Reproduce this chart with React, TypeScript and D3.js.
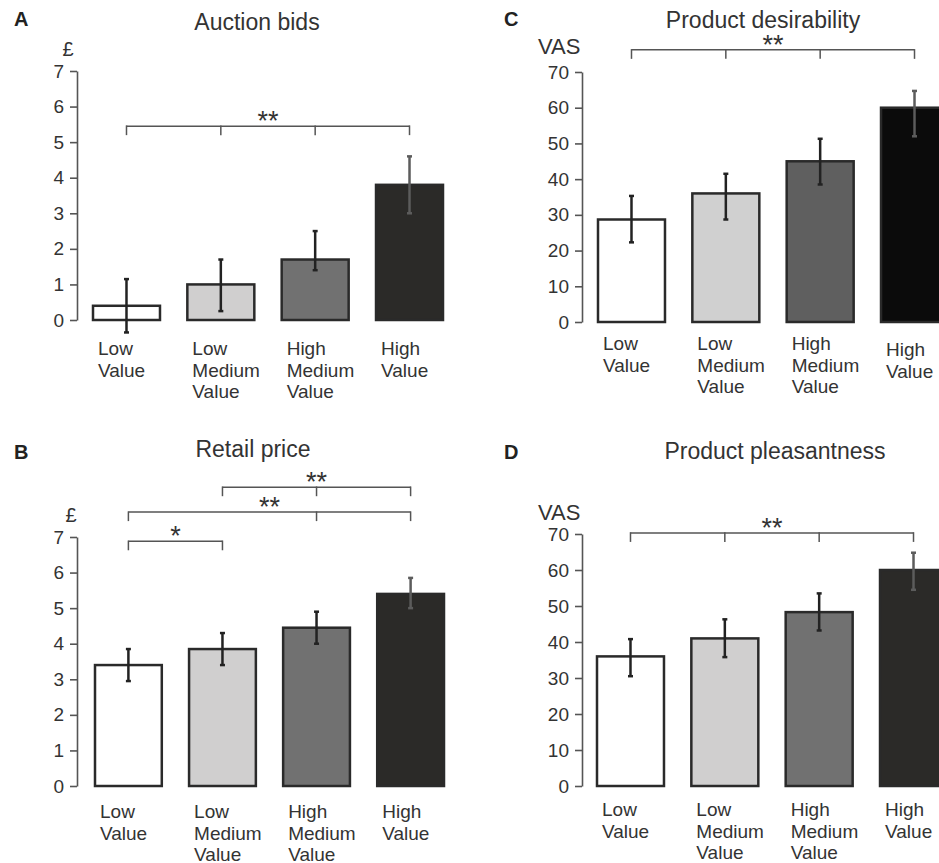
import { useEffect, useRef } from "react";
import * as d3 from "d3";

// categories shared by every panel
const categories = ["Low Value", "Low Medium Value", "High Medium Value", "High Value"];

// A: auction bids (£)
const auctionBids = [0.4, 1.0, 1.7, 3.8];
const auctionBidsLow = [-0.35, 0.25, 1.4, 3.0];
const auctionBidsHigh = [1.15, 1.7, 2.5, 4.6];

// B: retail price (£)
const retailPrice = [3.4, 3.85, 4.45, 5.4];
const retailPriceLow = [2.95, 3.4, 4.0, 5.0];
const retailPriceHigh = [3.85, 4.3, 4.9, 5.85];

// C: product desirability (VAS)
const desirability = [28.7, 36, 45, 60];
const desirabilityLow = [22.3, 28.7, 38.5, 52];
const desirabilityHigh = [35.3, 41.5, 51.3, 64.7];

// D: product pleasantness (VAS)
const pleasantness = [36, 41, 48.3, 60];
const pleasantnessLow = [30.5, 35.8, 43.2, 54.5];
const pleasantnessHigh = [40.8, 46.3, 53.5, 64.8];

const poundTicks = [0, 1, 2, 3, 4, 5, 6, 7];
const vasTicks = [0, 10, 20, 30, 40, 50, 60, 70];

// significance brackets: indices of bars, level in data units
const auctionSig = [{ from: 0, to: 3, drops: [0, 1, 2, 3], at: 5.45, label: "**" }];
const retailSig = [
  { from: 0, to: 1, drops: [0, 1], at: 6.88, label: "*" },
  { from: 0, to: 3, drops: [0, 2, 3], at: 7.7, label: "**" },
  { from: 1, to: 3, drops: [1, 2, 3], at: 8.4, label: "**" },
];
const desirabilitySig = [{ from: 0, to: 3, drops: [0, 1, 2, 3], at: 76.2, label: "**" }];
const pleasantnessSig = [{ from: 0, to: 3, drops: [0, 1, 2, 3], at: 70.3, label: "**" }];

const greyFills = ["#ffffff", "#d0cfcf", "#717171", "#2b2a28"];
const desirFills = ["#ffffff", "#d0d0d0", "#5f5f5f", "#0b0b0b"];

const FONT = "'Liberation Sans', Arial, Helvetica, sans-serif";

const panels = [
  {
    letter: "A", title: "Auction bids", unit: "£", values: auctionBids, low: auctionBidsLow, high: auctionBidsHigh,
    sig: auctionSig, ticks: poundTicks, max: 7, fills: greyFills,
    x0: 93, x1: 443, axisX: 77, yTop: 71, yBottom: 320,
    letterPos: [14, 26], titlePos: [257, 30], unitPos: [68, 56], unitAnchor: "middle",
    labelDy: 35, lastLabelShift: 0,
  },
  {
    letter: "B", title: "Retail price", unit: "£", values: retailPrice, low: retailPriceLow, high: retailPriceHigh,
    sig: retailSig, ticks: poundTicks, max: 7, fills: greyFills,
    x0: 95, x1: 444, axisX: 77, yTop: 537, yBottom: 786,
    letterPos: [14, 459], titlePos: [253, 457], unitPos: [71, 522], unitAnchor: "middle",
    labelDy: 32, lastLabelShift: 0,
  },
  {
    letter: "C", title: "Product desirability", unit: "VAS", values: desirability, low: desirabilityLow, high: desirabilityHigh,
    sig: desirabilitySig, ticks: vasTicks, max: 70, fills: desirFills,
    x0: 598, x1: 948, axisX: 582, yTop: 72, yBottom: 322,
    letterPos: [504, 26], titlePos: [763, 28], unitPos: [538, 54], unitAnchor: "start",
    labelDy: 28, lastLabelShift: 6,
  },
  {
    letter: "D", title: "Product pleasantness", unit: "VAS", values: pleasantness, low: pleasantnessLow, high: pleasantnessHigh,
    sig: pleasantnessSig, ticks: vasTicks, max: 70, fills: greyFills,
    x0: 597, x1: 947, axisX: 582, yTop: 534, yBottom: 786,
    letterPos: [504, 459], titlePos: [775, 459], unitPos: [538, 520], unitAnchor: "start",
    labelDy: 30, lastLabelShift: 0,
  },
];

function drawPanel(svg: any, p: any) {
  const g = svg.append("g");

  const x = d3.scaleBand().domain(categories).range([p.x0, p.x1]).paddingInner(0.29).paddingOuter(0);
  const y = d3.scaleLinear().domain([0, p.max]).range([p.yBottom, p.yTop]);

  // panel letter, title, unit
  g.append("text").attr("x", p.letterPos[0]).attr("y", p.letterPos[1])
    .attr("font-size", 20).attr("font-weight", "bold").attr("fill", "#222").text(p.letter);
  g.append("text").attr("x", p.titlePos[0]).attr("y", p.titlePos[1]).attr("text-anchor", "middle")
    .attr("font-size", 23).attr("fill", "#333").text(p.title);
  g.append("text").attr("x", p.unitPos[0]).attr("y", p.unitPos[1]).attr("text-anchor", p.unitAnchor)
    .attr("font-size", p.unit === "VAS" ? 22 : 20).attr("fill", "#333").text(p.unit);

  // y axis
  const axis = g.append("g")
    .attr("transform", `translate(${p.axisX},0)`)
    .call(d3.axisLeft(y).tickValues(p.ticks).tickFormat(d3.format("d")).tickSize(7).tickSizeOuter(0).tickPadding(6));
  axis.attr("font-family", FONT).attr("font-size", 19);
  axis.select(".domain").attr("stroke", "#555").attr("stroke-width", 1.6);
  axis.selectAll(".tick line").attr("stroke", "#555").attr("stroke-width", 1.6);
  axis.selectAll(".tick text").attr("fill", "#333");

  // bars
  g.selectAll("rect.bar").data(p.values).join("rect")
    .attr("class", "bar")
    .attr("x", (_: any, i: number) => x(categories[i]))
    .attr("width", x.bandwidth())
    .attr("y", (d: number) => y(d))
    .attr("height", (d: number) => y(0) - y(d))
    .attr("fill", (_: any, i: number) => p.fills[i])
    .attr("stroke", "#2a2a2a")
    .attr("stroke-width", 2.5);

  // error bars
  const cx = (i: number) => (x(categories[i]) as number) + x.bandwidth() / 2;
  const errColor = (i: number) => (i === 3 ? "#5c5c5c" : "#222");
  const err = g.append("g");
  p.values.forEach((_: number, i: number) => {
    err.append("line").attr("x1", cx(i)).attr("x2", cx(i))
      .attr("y1", y(p.low[i])).attr("y2", y(p.high[i]))
      .attr("stroke", errColor(i)).attr("stroke-width", 2.5);
    [p.low[i], p.high[i]].forEach((v: number) => {
      err.append("line").attr("x1", cx(i) - 2.5).attr("x2", cx(i) + 2.5)
        .attr("y1", y(v)).attr("y2", y(v))
        .attr("stroke", errColor(i)).attr("stroke-width", 2.5);
    });
  });

  // significance brackets
  p.sig.forEach((s: any) => {
    const by = y(s.at);
    g.append("line").attr("x1", cx(s.from)).attr("x2", cx(s.to)).attr("y1", by).attr("y2", by)
      .attr("stroke", "#555").attr("stroke-width", 1.5);
    s.drops.forEach((d: number) => {
      g.append("line").attr("x1", cx(d)).attr("x2", cx(d)).attr("y1", by - 0.75).attr("y2", by + 9)
        .attr("stroke", "#555").attr("stroke-width", 1.5);
    });
    g.append("text").attr("x", (cx(s.from) + cx(s.to)) / 2).attr("y", by + 4)
      .attr("text-anchor", "middle").attr("font-size", 27).attr("fill", "#333").text(s.label);
  });

  // category labels, left aligned under each bar
  categories.forEach((c, i) => {
    const t = g.append("text")
      .attr("x", (x(c) as number) + 5)
      .attr("y", p.yBottom + p.labelDy + (i === 3 ? p.lastLabelShift : 0))
      .attr("font-size", 19).attr("fill", "#333");
    c.split(" ").forEach((w, k) => {
      t.append("tspan").attr("x", (x(c) as number) + 5).attr("dy", k === 0 ? 0 : 21.5).text(w);
    });
  });
}

export default function App() {
  const svgRef = useRef<SVGSVGElement>(null);

  useEffect(() => {
    const svg = d3.select(svgRef.current);
    svg.selectAll("*").remove();
    panels.forEach((p) => drawPanel(svg, p));
  }, []);

  return (
    <svg
      ref={svgRef}
      width={939}
      height={863}
      style={{ position: "absolute", left: 0, top: 0, background: "#fff", fontFamily: FONT }}
    />
  );
}
